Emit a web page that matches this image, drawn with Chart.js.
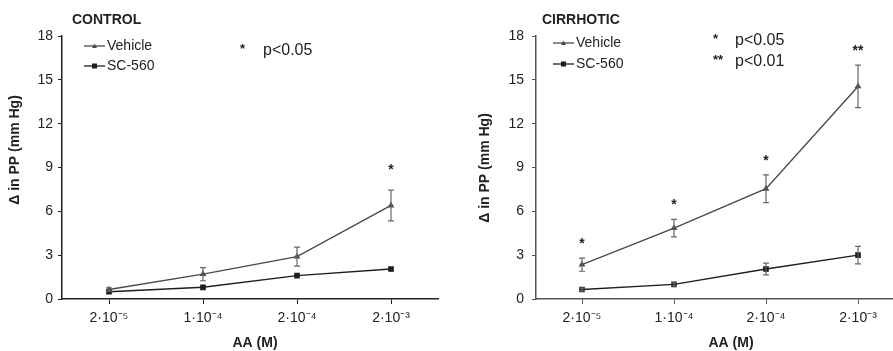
<!DOCTYPE html>
<html>
<head>
<meta charset="utf-8">
<script src="https://cdn.jsdelivr.net/npm/chart.js@4.4.1/dist/chart.umd.min.js"></script>
<style>
    html, body { margin: 0; padding: 0; background: #fff; overflow: hidden; width: 893px; height: 351px; }
    canvas { position: absolute; top: 0; }
    #control { left: 0; }
    #cirrhotic { left: 450px; }
</style>
</head>
<body>
<canvas id="control" width="450" height="351"></canvas>
<canvas id="cirrhotic" width="470" height="351"></canvas>
<script>
// Dados
const doses = ['2·10⁻⁵', '1·10⁻⁴', '2·10⁻⁴', '2·10⁻³'];
const yTickValues = [0, 3, 6, 9, 12, 15, 18];
const seriesNames = ['Vehicle', 'SC-560'];

const controlVehicle = [0.65, 1.7, 2.9, 6.4];
const controlVehicleErr = [0.12, 0.45, 0.65, 1.05];
const controlSC = [0.5, 0.8, 1.6, 2.05];
const controlSCErr = [0, 0, 0, 0];
const controlSig = ['', '', '', '*'];
const controlNotes = ['*  p<0.05'];

const cirrhoticVehicle = [2.35, 4.85, 7.55, 14.55];
const cirrhoticVehicleErr = [0.45, 0.6, 0.95, 1.45];
const cirrhoticSC = [0.65, 1.0, 2.05, 3.0];
const cirrhoticSCErr = [0.1, 0.1, 0.4, 0.6];
const cirrhoticSig = ['*', '*', '*', '**'];
const cirrhoticNotes = ['*  p<0.05', '** p<0.01'];

const FONT = '"Liberation Sans", Arial, sans-serif';

// Plugin que desenha barras de erro, asteriscos, legenda e textos
function overlayPlugin(cfg) {
    return {
        id: 'overlay',
        afterDatasetsDraw(chart) {
            const ctx = chart.ctx;
            const x = chart.scales.x, y = chart.scales.y;
            ctx.save();

            // barras de erro
            chart.data.datasets.forEach((ds, di) => {
                const errs = cfg.errors[di];
                ctx.strokeStyle = '#666';
                ctx.lineWidth = 1.2;
                ds.data.forEach((v, i) => {
                    const e = errs[i];
                    if (!e) return;
                    const px = x.getPixelForValue(i);
                    const top = y.getPixelForValue(v + e);
                    const bot = y.getPixelForValue(v - e);
                    ctx.beginPath();
                    ctx.moveTo(px, top); ctx.lineTo(px, bot);
                    ctx.moveTo(px - 3, top); ctx.lineTo(px + 3, top);
                    ctx.moveTo(px - 3, bot); ctx.lineTo(px + 3, bot);
                    ctx.stroke();
                });
            });

            // asteriscos de significância
            const veh = chart.data.datasets[0].data;
            ctx.fillStyle = '#222';
            ctx.font = 'bold 14px ' + FONT;
            ctx.textAlign = 'center';
            ctx.textBaseline = 'alphabetic';
            cfg.sig.forEach((s, i) => {
                if (!s) return;
                const top = y.getPixelForValue(veh[i] + cfg.errors[0][i]);
                ctx.fillText(s, x.getPixelForValue(i), top - cfg.sigGap + 8);
            });

            // título do painel
            ctx.textAlign = 'left';
            ctx.font = 'bold 14px ' + FONT;
            ctx.fillStyle = '#222';
            ctx.fillText(cfg.title, cfg.titleX, 24);

            // legenda
            ctx.font = '14px ' + FONT;
            ctx.textBaseline = 'middle';
            seriesNames.forEach((name, i) => {
                const ds = chart.data.datasets[i];
                const ly = cfg.legendY[i];
                ctx.strokeStyle = ds.borderColor;
                ctx.lineWidth = 1.3;
                ctx.beginPath();
                ctx.moveTo(cfg.legendX, ly); ctx.lineTo(cfg.legendX + 21, ly);
                ctx.stroke();
                const cx = cfg.legendX + 10.5;
                ctx.fillStyle = ds.borderColor;
                if (i === 0) {
                    ctx.beginPath();
                    ctx.moveTo(cx, ly - 2.5); ctx.lineTo(cx + 2.5, ly + 2); ctx.lineTo(cx - 2.5, ly + 2);
                    ctx.closePath(); ctx.fill();
                } else {
                    ctx.fillRect(cx - 2.5, ly - 2.5, 5, 5);
                }
                ctx.fillStyle = '#222';
                ctx.fillText(name, cfg.legendX + 23, ly);
            });

            // notas de p-valor
            ctx.textBaseline = 'alphabetic';
            cfg.notes.forEach((note, i) => {
                const parts = note.split(/\s+/);
                const by = cfg.noteY[i];
                ctx.font = 'bold 13px ' + FONT;
                ctx.fillText(parts[0], cfg.noteStarX, by - 2);
                ctx.font = '16px ' + FONT;
                ctx.fillText(parts[1], cfg.noteTextX, by);
            });

            // títulos dos eixos
            ctx.font = 'bold 14px ' + FONT;
            ctx.textAlign = 'center';
            ctx.textBaseline = 'middle';
            ctx.fillText('AA (M)', cfg.xTitleX, 343);
            ctx.save();
            ctx.translate(cfg.yTitleX, cfg.yTitleY);
            ctx.rotate(-Math.PI / 2);
            ctx.fillText('Δ in PP (mm Hg)', 0, 0);
            ctx.restore();

            ctx.restore();
        }
    };
}

function makeChart(id, veh, sc, cfg) {
    const ctx = document.getElementById(id).getContext('2d');
    return new Chart(ctx, {
        type: 'line',
        data: {
            labels: doses,
            datasets: [{
                label: seriesNames[0],
                data: veh,
                borderColor: '#4a4a4a',
                backgroundColor: '#4a4a4a',
                borderWidth: 1.4,
                pointStyle: 'triangle',
                pointRadius: 2.5,
                tension: 0
            }, {
                label: seriesNames[1],
                data: sc,
                borderColor: '#1e1e1e',
                backgroundColor: '#1e1e1e',
                borderWidth: 1.4,
                pointStyle: 'rect',
                pointRadius: 3,
                tension: 0
            }]
        },
        options: {
            responsive: false,
            animation: false,
            devicePixelRatio: 1,
            layout: { padding: { top: 36, right: cfg.padRight, left: 0, bottom: 0 } },
            plugins: { legend: { display: false }, tooltip: { enabled: false } },
            scales: {
                x: {
                    type: 'category',
                    offset: true,
                    grid: { drawOnChartArea: false, offset: false, tickLength: 5, color: cfg.axisColor },
                    border: { color: cfg.axisColor, width: 1.5 },
                    ticks: { font: { family: FONT, size: 14 }, color: '#222', padding: 6 },
                    afterFit: s => { s.height = 52; }
                },
                y: {
                    min: 0,
                    max: 18,
                    afterBuildTicks: s => { s.ticks = yTickValues.map(v => ({ value: v })); },
                    grid: { drawOnChartArea: false, tickLength: 4, color: cfg.axisColor },
                    border: { color: cfg.axisColor, width: 1.5 },
                    ticks: { font: { family: FONT, size: 14 }, color: '#222', padding: cfg.yTickPad },
                    afterFit: s => { s.width = cfg.yWidth; }
                }
            }
        },
        plugins: [overlayPlugin(cfg)]
    });
}

makeChart('control', controlVehicle, controlSC, {
    title: 'CONTROL', titleX: 72,
    errors: [controlVehicleErr, controlSCErr],
    sig: controlSig, sigGap: 24,
    legendX: 84, legendY: [46, 66],
    notes: controlNotes, noteStarX: 240, noteTextX: 263, noteY: [55],
    xTitleX: 255, yTitleX: 15, yTitleY: 150,
    padRight: 12, yWidth: 62, yTickPad: 5, axisColor: '#222'
});

makeChart('cirrhotic', cirrhoticVehicle, cirrhoticSC, {
    title: 'CIRRHOTIC', titleX: 92,
    errors: [cirrhoticVehicleErr, cirrhoticSCErr],
    sig: cirrhoticSig, sigGap: 18,
    legendX: 103, legendY: [43, 64],
    notes: cirrhoticNotes, noteStarX: 263, noteTextX: 285, noteY: [45, 66],
    xTitleX: 281, yTitleX: 35, yTitleY: 168,
    padRight: 16, yWidth: 86, yTickPad: 8, axisColor: '#555'
});
</script>
</body>
</html>
